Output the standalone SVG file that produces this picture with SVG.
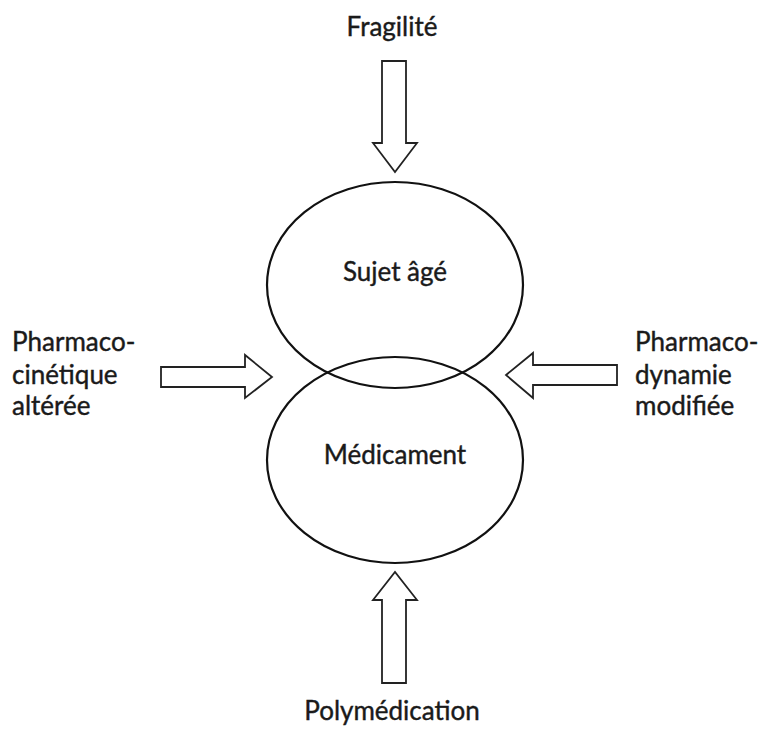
<svg xmlns="http://www.w3.org/2000/svg" width="762" height="729" viewBox="0 0 762 729">
<style>
text{font-family:Lato,"Open Sans","Liberation Sans",sans-serif;font-size:26px;fill:#1a1a1a;stroke:#1a1a1a;stroke-width:0.4}
.c{text-anchor:middle}
.e{fill:none;stroke:#111;stroke-width:2.2}
.a{fill:#fff;stroke:#222;stroke-width:1.8;stroke-linejoin:miter}
</style>
<rect width="762" height="729" fill="#fff"/>
<g id="sujet">
<ellipse class="e" cx="395" cy="285" rx="128" ry="103"/>
<text class="c" x="395" y="281">Sujet âgé</text>
</g>
<g id="medicament">
<ellipse class="e" cx="395" cy="460" rx="128" ry="103"/>
<text class="c" x="395" y="464">Médicament</text>
</g>
<g id="fragilite"><text class="c" x="392" y="36">Fragilité</text></g>
<g id="polymedication"><text class="c" x="392" y="720">Polymédication</text></g>
<g id="pk"><text x="12" y="351">Pharmaco-</text><text x="12" y="384">cinétique</text><text x="12" y="415">altérée</text></g>
<g id="pd"><text x="635" y="351">Pharmaco-</text><text x="635" y="384">dynamie</text><text x="635" y="415">modifiée</text></g>
<g id="connectors">
<polygon class="a" points="382,61 406,61 406,143 417,143 395,172 373,143 382,143"/>
<polygon class="a" points="382,683 406,683 406,600 417,600 395,572 373,600 382,600"/>
<polygon class="a" points="161,367 245,367 245,355 272,377 245,398 245,387 161,387"/>
<polygon class="a" points="617,365 533,365 533,353 506,375 533,398 533,385 617,385"/>
</g>
</svg>
